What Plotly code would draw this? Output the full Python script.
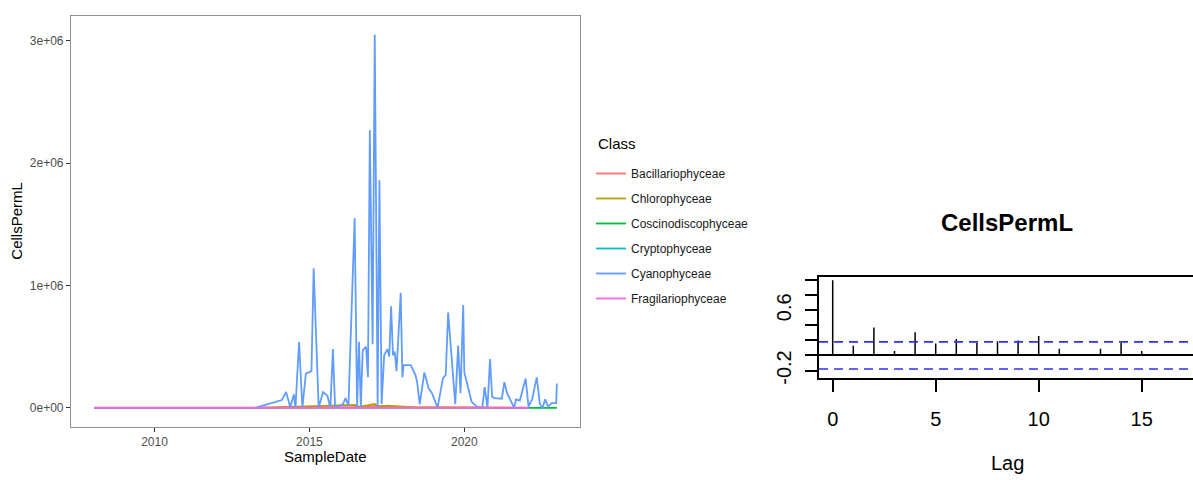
import pandas as pd
import plotly.graph_objects as go

# ---- phytoplankton cell counts by class -------------------------------------
classes = ["Bacillariophyceae", "Chlorophyceae", "Coscinodiscophyceae",
           "Cryptophyceae", "Cyanophyceae", "Fragilariophyceae"]
class_colors = ["#F8766D", "#B79F00", "#00BA38", "#00BFC4", "#619CFF", "#F564E3"]

bacillario_dates = ["2008-01-20", "2011-06-01", "2013-04-01", "2016-06-17", "2017-02-09",
                    "2018-01-01", "2020-01-01", "2022-01-27"]
bacillario_cells = [1500, 800, 2000, 9000, 15000, 6000, 3000, 2000]

chloro_dates = ["2008-01-20", "2013-04-01", "2016-06-17", "2016-08-07", "2017-02-09",
                "2017-03-15", "2017-07-09", "2017-12-12", "2018-06-03", "2019-06-24",
                "2020-10-30", "2022-01-27"]
chloro_cells = [500, 800, 25000, 8000, 32000, 12000, 18000, 10000, 5000, 4000, 3000, 1000]

coscino_dates = ["2022-01-27", "2022-05-04", "2022-08-11", "2022-12-27"]
coscino_cells = [500, 300, 800, 400]

crypto_dates = ["2008-01-20", "2012-01-01", "2016-01-30", "2020-01-01", "2022-01-27"]
crypto_cells = [200, 300, 1500, 1000, 500]

cyano_dates = [
    "2013-04-01", "2014-02-10", "2014-04-01", "2014-05-20", "2014-07-01", "2014-07-20",
    "2014-09-01", "2014-10-10", "2014-11-20", "2015-01-25", "2015-02-20", "2015-04-20",
    "2015-06-10", "2015-08-01", "2015-09-05", "2015-10-05", "2015-10-31", "2016-01-30",
    "2016-03-01", "2016-04-05", "2016-06-17", "2016-07-16", "2016-08-07", "2016-08-29",
    "2016-09-20", "2016-10-30", "2016-11-21", "2016-12-13", "2017-01-15", "2017-02-09",
    "2017-03-15", "2017-04-05", "2017-05-01", "2017-05-31", "2017-07-09", "2017-07-30",
    "2017-08-21", "2017-09-12", "2017-10-02", "2017-10-24", "2017-12-12", "2018-01-01",
    "2018-01-16", "2018-04-09", "2018-06-03", "2018-06-24", "2018-07-24", "2018-09-17",
    "2018-11-06", "2018-12-16", "2019-02-20", "2019-04-23", "2019-05-27", "2019-06-24",
    "2019-09-16", "2019-10-20", "2019-11-17", "2019-12-19", "2020-01-01", "2020-03-27",
    "2020-05-28", "2020-07-30", "2020-08-28", "2020-09-30", "2020-10-30", "2020-11-24",
    "2020-12-23", "2021-03-18", "2021-04-17", "2021-05-19", "2021-07-08", "2021-08-11",
    "2021-09-01", "2021-10-16", "2021-12-24", "2022-01-27", "2022-03-10", "2022-05-04",
    "2022-06-10", "2022-07-12", "2022-08-11", "2022-09-14", "2022-10-27", "2022-12-19",
    "2022-12-27",
]
cyano_cells = [
    0, 64000, 130000, 5000, 110000, 0,
    540000, 0, 280000, 300000, 1140000, 0,
    130000, 100000, 0, 480000, 0, 30000,
    80000, 20000, 1550000, 0, 540000, 0,
    470000, 500000, 250000, 2270000, 520000, 3050000,
    10000, 1860000, 30000, 430000, 480000, 420000,
    830000, 430000, 460000, 300000, 940000, 250000,
    350000, 350000, 270000, 210000, 30000, 290000,
    160000, 120000, 0, 240000, 270000, 780000,
    30000, 510000, 120000, 840000, 290000, 50000,
    10000, 0, 170000, 0, 400000, 90000,
    80000, 75000, 210000, 120000, 50000, 0,
    70000, 60000, 240000, 10000, 70000, 250000,
    30000, 0, 70000, 10000, 40000, 40000,
    200000,
]

fragilario_dates = ["2008-01-20", "2010-06-01", "2013-01-01", "2016-06-17", "2018-06-01",
                    "2020-06-01", "2022-01-27"]
fragilario_cells = [300, 200, 500, 1500, 800, 600, 400]

series_dates = [bacillario_dates, chloro_dates, coscino_dates, crypto_dates,
                cyano_dates, fragilario_dates]
series_cells = [bacillario_cells, chloro_cells, coscino_cells, crypto_cells,
                cyano_cells, fragilario_cells]

y_ticks = [0, 1e6, 2e6, 3e6]
y_tick_text = ["0e+00", "1e+06", "2e+06", "3e+06"]
x_tick_years = [2010, 2015, 2020]

# ---- autocorrelation of CellsPermL -----------------------------------------
acf_lags = list(range(18))
acf_values = [1.0, 0.13, 0.37, 0.06, 0.31, 0.16, 0.22, 0.17, 0.19, 0.20,
              0.26, 0.09, 0.02, 0.09, 0.17, 0.06, 0.02, 0.02]
acf_conf = 0.18
acf_y_ticks = [-0.2, 0.0, 0.2, 0.4, 0.6, 0.8, 1.0]
acf_y_text = ["-0.2", "", "", "", "0.6", "", ""]
acf_x_ticks = [0, 5, 10, 15, 20]

W, H = 1193, 480
FONT = "Liberation Sans, Arial, Helvetica, sans-serif"

fig = go.Figure()

for name, color, d, v in zip(classes, class_colors, series_dates, series_cells):
    fig.add_trace(go.Scatter(
        x=pd.to_datetime(d), y=v, mode="lines", name=name, legendgroup=name,
        line=dict(color=color, width=1.8), xaxis="x", yaxis="y",
    ))

# spikes of the correlogram
spike_x, spike_y = [], []
for lag, val in zip(acf_lags, acf_values):
    spike_x += [lag, lag, None]
    spike_y += [0, val, None]
fig.add_trace(go.Scatter(
    x=spike_x, y=spike_y, mode="lines", line=dict(color="black", width=1.5),
    showlegend=False, xaxis="x2", yaxis="y2", hoverinfo="skip",
))

# ggplot-like expanded ranges
all_dates = pd.to_datetime(sum(series_dates, []))
dmin, dmax = all_dates.min(), all_dates.max()
span = dmax - dmin
x_range = [dmin - span * 0.05, dmax + span * 0.05]
ymax = max(max(v) for v in series_cells)
y_range = [-0.05 * ymax, 1.05 * ymax]

# confidence bounds
for c in (acf_conf, -acf_conf):
    fig.add_shape(type="line", xref="x2 domain", yref="y2", x0=0, x1=1, y0=c, y1=c,
                  line=dict(color="#2f2ff0", width=1.6, dash="9px,6px"))


def label(text, x, y, size, angle=0, anchor="center"):
    return dict(text=text, x=x / W, y=1 - y / H, xref="paper", yref="paper",
                xanchor=anchor, yanchor="middle", showarrow=False, textangle=angle,
                font=dict(size=size, color="black"))


fig.update_layout(
    width=W, height=H,
    margin=dict(l=0, r=0, t=0, b=0),
    paper_bgcolor="white", plot_bgcolor="white",
    font=dict(family=FONT, color="black"),
    xaxis=dict(
        domain=[71 / W, 580 / W], anchor="y", type="date", range=x_range,
        tickvals=[pd.Timestamp(f"{yr}-01-01") for yr in x_tick_years],
        ticktext=[str(yr) for yr in x_tick_years],
        showgrid=False, zeroline=False, showline=True, mirror=True,
        linecolor="#8f8f8f", linewidth=1.1,
        ticks="outside", ticklen=4, tickwidth=1.1, tickcolor="#333333",
        tickfont=dict(size=12, color="#4D4D4D"),
    ),
    yaxis=dict(
        domain=[1 - 432 / H, 1 - 16 / H], anchor="x", range=y_range,
        tickvals=y_ticks, ticktext=y_tick_text,
        showgrid=False, zeroline=False, showline=True, mirror=True,
        linecolor="#8f8f8f", linewidth=1.1,
        ticks="outside", ticklen=4, tickwidth=1.1, tickcolor="#333333",
        tickfont=dict(size=12, color="#4D4D4D"),
    ),
    xaxis2=dict(
        domain=[819 / W, 1.0], anchor="y2", range=[-0.665, 17.49],
        tickvals=acf_x_ticks, ticktext=[str(t) for t in acf_x_ticks],
        showgrid=False, zeroline=False, showline=True, mirror=True,
        linecolor="black", linewidth=1.6,
        ticks="outside", ticklen=12, tickwidth=1.5, tickcolor="black",
        tickfont=dict(size=20, color="black"), ticklabelstandoff=10,
    ),
    yaxis2=dict(
        domain=[1 - 383 / H, 1 - 280 / H], anchor="x2", range=[-0.302, 1.049],
        tickvals=acf_y_ticks, ticktext=acf_y_text, tickangle=-90,
        showgrid=False, zeroline=True, zerolinecolor="black", zerolinewidth=1.5,
        showline=True, mirror=False, linecolor="black", linewidth=1.6,
        ticks="outside", ticklen=12, tickwidth=1.5, tickcolor="black",
        tickfont=dict(size=20, color="black"), ticklabelstandoff=6,
    ),
    legend=dict(
        x=591 / W, y=1 - 161 / H, xanchor="left", yanchor="top",
        font=dict(size=12, color="#1a1a1a"), tracegroupgap=6,
        bgcolor="rgba(0,0,0,0)", borderwidth=0, itemwidth=30,
    ),
    annotations=[
        label("Class", 596, 145, 15, anchor="left"),
        label("SampleDate", 325.5, 462, 15),
        label("CellsPermL", 16.5, 224, 15, angle=-90),
        label("<b>CellsPermL</b>", 1007, 225, 24),
        label("Lag", 1007, 469, 20),
    ],
)

fig.write_html("out.html")
